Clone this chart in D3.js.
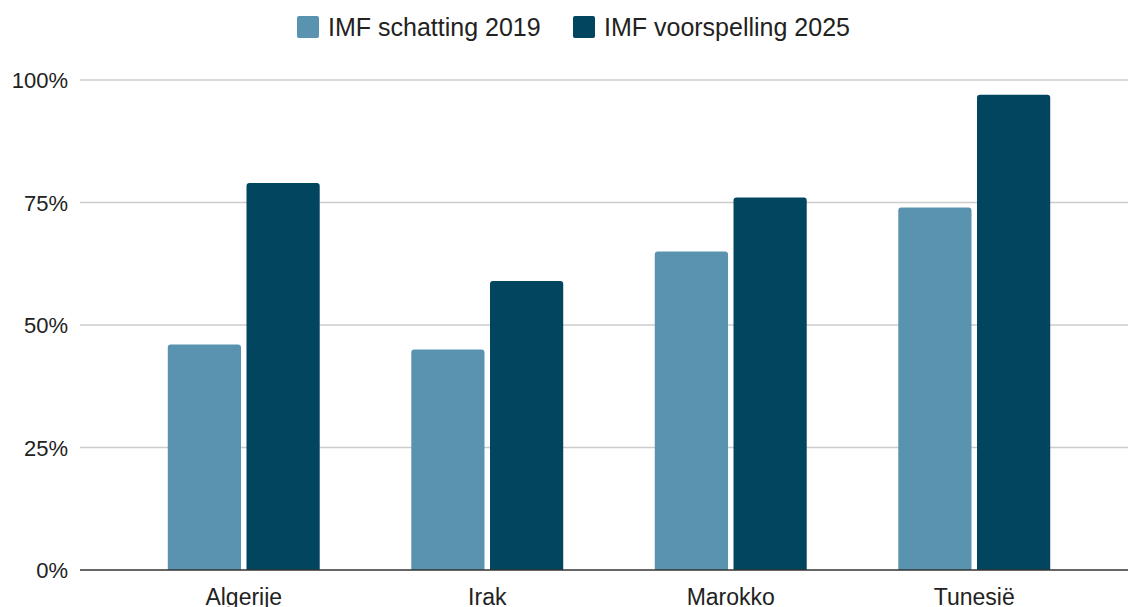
<!DOCTYPE html>
<html>
<head>
<meta charset="utf-8">
<script src="https://cdn.jsdelivr.net/npm/d3@7"></script>
<style>
  body { margin: 0; background: #fff; }
  text { font-family: "Liberation Sans", Arial, sans-serif; fill: #222; }
</style>
</head>
<body>
<svg id="chart"></svg>
<script>
const categories = ["Algerije", "Irak", "Marokko", "Tunesië"];
const seriesNames = ["IMF schatting 2019", "IMF voorspelling 2025"];
const schatting2019 = [46, 45, 65, 74];
const voorspelling2025 = [79, 59, 76, 97];
const yTicks = [0, 25, 50, 75, 100];

const params = { width: 1128, height: 607, left: 80, top: 80, bottom: 570 };
const colors = ["#5a93b0", "#02455f"];

const svg = d3.select("#chart")
    .attr("width", params.width)
    .attr("height", params.height);

const y = d3.scaleLinear().domain([0, 100]).range([params.bottom, params.top]);

const x = d3.scaleBand()
    .domain(categories)
    .range([122, 1096])
    .paddingInner(0.376)
    .paddingOuter(0.188);

const xs = d3.scaleBand()
    .domain(seriesNames)
    .range([0, x.bandwidth()])
    .paddingInner(0.07);

// Gridlines & tick labels
const grid = svg.append("g");
grid.selectAll("line")
    .data(yTicks.filter(d => d > 0))
    .join("line")
    .attr("x1", params.left)
    .attr("x2", params.width)
    .attr("y1", d => y(d))
    .attr("y2", d => y(d))
    .attr("stroke", "#cccccc")
    .attr("stroke-width", 1.5);

grid.selectAll("text")
    .data(yTicks)
    .join("text")
    .attr("x", 68)
    .attr("y", d => y(d) + 8)
    .attr("text-anchor", "end")
    .attr("font-size", "22px")
    .text(d => d + "%");

// Bars
const rows = categories.map((c, i) => ({ c, vals: [schatting2019[i], voorspelling2025[i]] }));

const r = 3;
const topRounded = (x0, w, y0, y1) =>
    `M${x0},${y1}V${y0 + r}Q${x0},${y0} ${x0 + r},${y0}H${x0 + w - r}Q${x0 + w},${y0} ${x0 + w},${y0 + r}V${y1}Z`;

svg.append("g")
    .selectAll("g")
    .data(rows)
    .join("g")
    .attr("transform", d => `translate(${x(d.c)},0)`)
    .selectAll("path")
    .data(d => d.vals.map((v, i) => ({ v, s: seriesNames[i], i })))
    .join("path")
    .attr("fill", d => colors[d.i])
    .attr("d", d => topRounded(xs(d.s), xs.bandwidth(), y(d.v), y(0)));

// Baseline
svg.append("line")
    .attr("x1", params.left)
    .attr("x2", params.width)
    .attr("y1", y(0))
    .attr("y2", y(0))
    .attr("stroke", "#333")
    .attr("stroke-width", 1.5);

// Category labels
svg.append("g")
    .selectAll("text")
    .data(categories)
    .join("text")
    .attr("x", d => x(d) + x.bandwidth() / 2)
    .attr("y", 605)
    .attr("text-anchor", "middle")
    .attr("font-size", "23px")
    .text(d => d);

// Legend
const legendX = [297, 573];
const legend = svg.append("g")
    .selectAll("g")
    .data(seriesNames)
    .join("g")
    .attr("transform", (d, i) => `translate(${legendX[i]},16)`);

legend.append("rect")
    .attr("width", 22)
    .attr("height", 22)
    .attr("rx", 2)
    .attr("fill", (d, i) => colors[i]);

legend.append("text")
    .attr("x", 31)
    .attr("y", 20)
    .attr("font-size", "25px")
    .text(d => d);
</script>
</body>
</html>
